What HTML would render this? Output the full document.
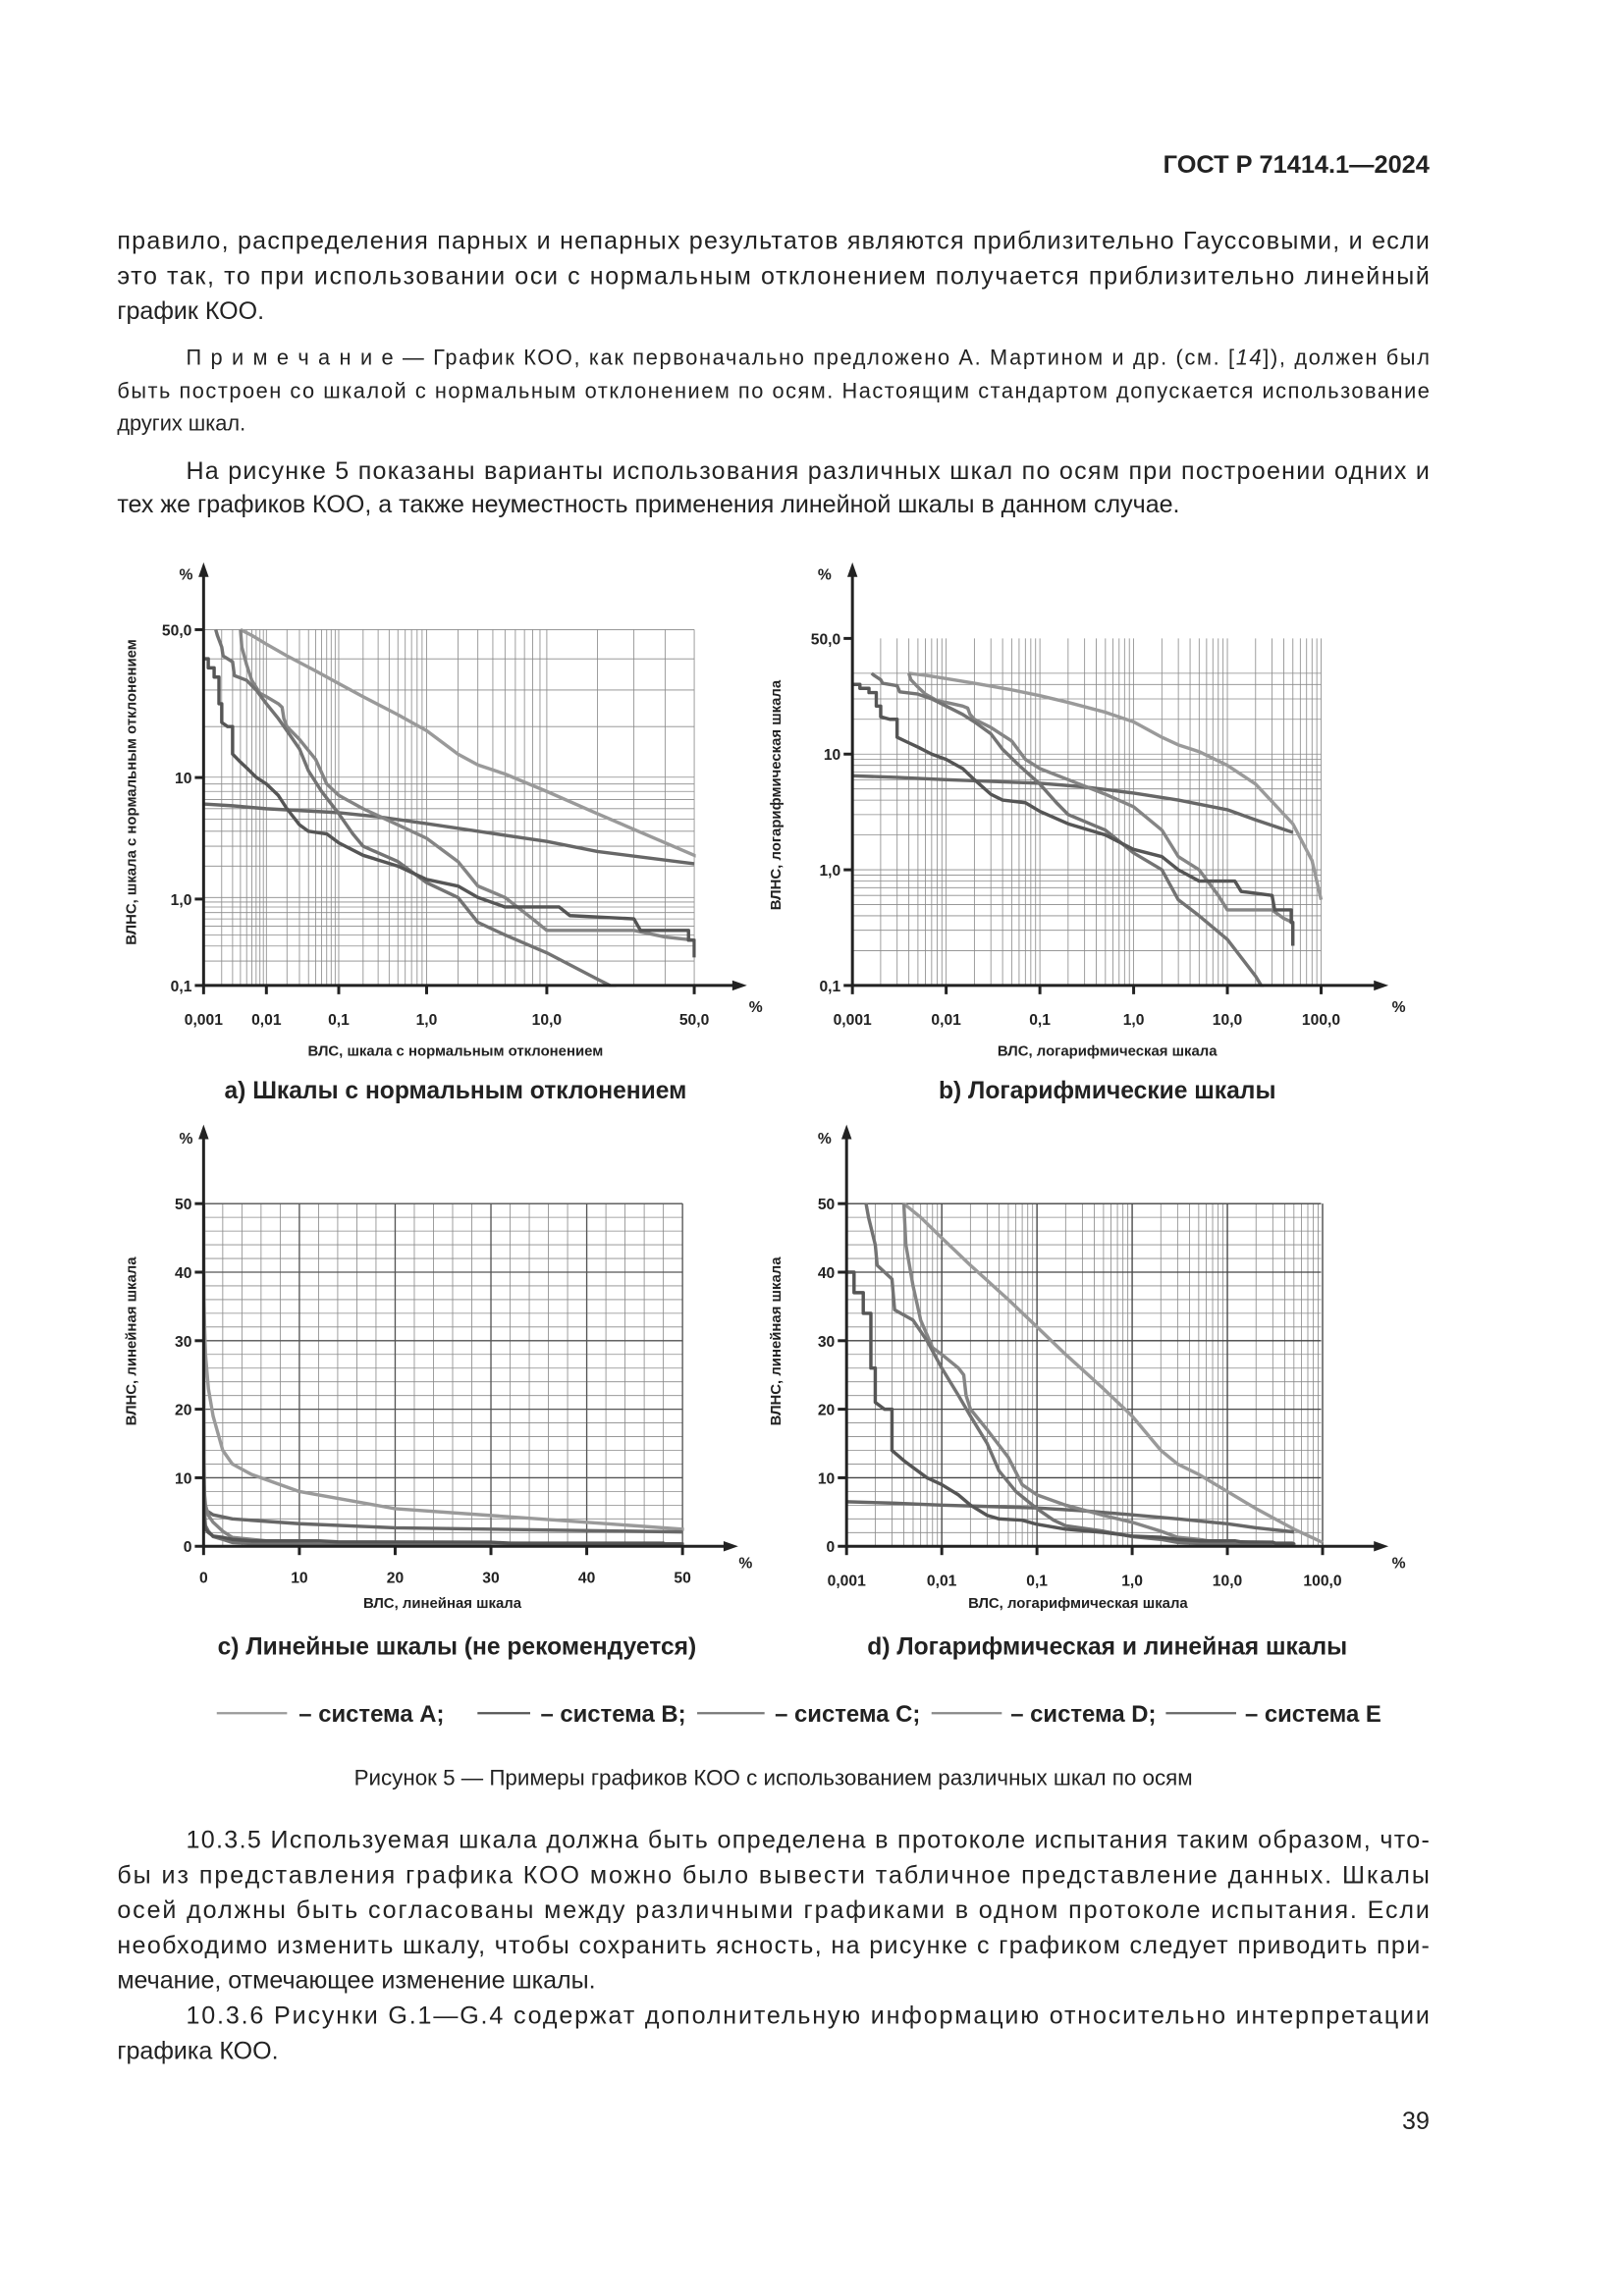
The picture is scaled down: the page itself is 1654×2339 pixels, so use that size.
<!DOCTYPE html>
<html><head><meta charset="utf-8">
<style>
html,body{margin:0;padding:0;background:#fff;}
svg{display:block;}
text{font-family:"Liberation Sans",sans-serif;fill:#222;}
.p{font-size:16.8px;}
.n{font-size:14.6px;}
.t{font-size:10.5px;font-weight:bold;}
.at{font-size:10px;font-weight:bold;}
.cap{font-size:16.5px;font-weight:bold;}
</style></head><body>
<svg id="s" width="1654" height="2339" viewBox="0 0 1108.8 1568" xmlns="http://www.w3.org/2000/svg">
<text x="976" y="118" text-anchor="end" style="font-size:17px;font-weight:bold">ГОСТ Р 71414.1—2024</text>
<text class="p" x="80" y="170" textLength="896" lengthAdjust="spacing">правило, распределения парных и непарных результатов являются приблизительно Гауссовыми, и если</text>
<text class="p" x="80" y="194" textLength="896" lengthAdjust="spacing">это так, то при использовании оси с нормальным отклонением получается приблизительно линейный</text>
<text class="p" x="80" y="218">график КОО.</text>
<text class="n" x="127" y="249" textLength="849" lengthAdjust="spacing">П р и м е ч а н и е — График КОО, как первоначально предложено А. Мартином и др. (см. [<tspan font-style="italic">14</tspan>]), должен был</text>
<text class="n" x="80" y="272" textLength="896" lengthAdjust="spacing">быть построен со шкалой с нормальным отклонением по осям. Настоящим стандартом допускается использование</text>
<text class="n" x="80" y="294">других шкал.</text>
<text class="p" x="127" y="327" textLength="849" lengthAdjust="spacing">На рисунке 5 показаны варианты использования различных шкал по осям при построении одних и</text>
<text class="p" x="80" y="350">тех же графиков КОО, а также неуместность применения линейной шкалы в данном случае.</text>

<g id="charts"></g>

<text class="cap" x="311" y="750" text-anchor="middle">а) Шкалы с нормальным отклонением</text>
<text class="cap" x="756" y="750" text-anchor="middle">b) Логарифмические шкалы</text>
<text class="cap" x="312" y="1130" text-anchor="middle">c) Линейные шкалы (не рекомендуется)</text>
<text class="cap" x="756" y="1130" text-anchor="middle">d) Логарифмическая и линейная шкалы</text>

<g stroke-width="1.5">
<line x1="148" y1="1170" x2="196" y2="1170" stroke="#999"/>
<line x1="326" y1="1170" x2="362" y2="1170" stroke="#555"/>
<line x1="476" y1="1170" x2="522" y2="1170" stroke="#777"/>
<line x1="636" y1="1170" x2="684" y2="1170" stroke="#888"/>
<line x1="796" y1="1170" x2="844" y2="1170" stroke="#666"/>
</g>
<text x="204" y="1176" style="font-weight:bold;font-size:16px">– система А;</text>
<text x="369" y="1176" style="font-weight:bold;font-size:16px">– система В;</text>
<text x="529" y="1176" style="font-weight:bold;font-size:16px">– система С;</text>
<text x="690" y="1176" style="font-weight:bold;font-size:16px">– система D;</text>
<text x="850" y="1176" style="font-weight:bold;font-size:16px">– система Е</text>

<text x="528" y="1219" text-anchor="middle" style="font-size:15px">Рисунок 5 — Примеры графиков КОО с использованием различных шкал по осям</text>

<text class="p" x="127" y="1262" textLength="849" lengthAdjust="spacing">10.3.5 Используемая шкала должна быть определена в протоколе испытания таким образом, что-</text>
<text class="p" x="80" y="1286" textLength="896" lengthAdjust="spacing">бы из представления графика КОО можно было вывести табличное представление данных. Шкалы</text>
<text class="p" x="80" y="1310" textLength="896" lengthAdjust="spacing">осей должны быть согласованы между различными графиками в одном протоколе испытания. Если</text>
<text class="p" x="80" y="1334" textLength="896" lengthAdjust="spacing">необходимо изменить шкалу, чтобы сохранить ясность, на рисунке с графиком следует приводить при-</text>
<text class="p" x="80" y="1358">мечание, отмечающее изменение шкалы.</text>
<text class="p" x="127" y="1382" textLength="849" lengthAdjust="spacing">10.3.6 Рисунки G.1—G.4 содержат дополнительную информацию относительно интерпретации</text>
<text class="p" x="80" y="1406">графика КОО.</text>
<text class="p" x="976" y="1454" text-anchor="end">39</text>
</svg>
<script>
(function(){
var NS="http://www.w3.org/2000/svg",G=document.getElementById("charts");
function el(t,a,txt){var e=document.createElementNS(NS,t);for(var k in a)e.setAttribute(k,a[k]);if(txt!=null)e.textContent=txt;G.appendChild(e);return e;}
function probit(p){
 var a=[-39.6968302866538,220.946098424521,-275.928510446969,138.357751867269,-30.6647980661472,2.50662827745924],
 b=[-54.4760987982241,161.585836858041,-155.698979859887,66.8013118877197,-13.2806815528857],
 c=[-0.00778489400243029,-0.322396458041136,-2.40075827716184,-2.54973253934373,4.37466414146497,2.93816398269878],
 d=[0.00778469570904146,0.32246712907004,2.445134137143,3.75440866190742];
 var q,r;if(p<0.02425){q=Math.sqrt(-2*Math.log(p));return (((((c[0]*q+c[1])*q+c[2])*q+c[3])*q+c[4])*q+c[5])/((((d[0]*q+d[1])*q+d[2])*q+d[3])*q+1);}
 if(p>0.97575){return -probit(1-p);}
 q=p-0.5;r=q*q;return (((((a[0]*r+a[1])*r+a[2])*r+a[3])*r+a[4])*r+a[5])*q/(((((b[0]*r+b[1])*r+b[2])*r+b[3])*r+b[4])*r+1);}
var L10=Math.log10;
function normX(v){var z0=probit(1e-5);return 139+335*(probit(v/100)-z0)/(0-z0);}
function normY(v){var z=probit(v/100),zb=probit(0.001);return 430+243*(0-z)/(0-zb);}
function logXb(v){return 582+320*(L10(v)+3)/5;}
function logYb(v){return 673-79*(L10(v)+1);}
function linXc(v){return 139+327*v/50;}
function linYc(v){return 1056-234*v/50;}
function logXd(v){return 578+325*(L10(v)+3)/5;}
function linYd(v){return 1056-234*v/50;}
var S={
E:{c:"#9a9a9a",d:[[0.004,50],[0.006,48],[0.01,45],[0.02,41],[0.05,36],[0.1,32],[0.2,28],[0.5,23],[1,19],[2,14],[3,12],[5,10.5],[10,8],[20,5.5],[50,2.5],[80,1.2],[100,0.55]]},
D:{c:"#676767",d:[[0.001,6.5],[0.003,6.3],[0.01,6],[0.1,5.6],[0.3,5.2],[1,4.6],[3,4],[10,3.3],[20,2.7],[50,2.1]]},
A:{c:"#555",d:[[0.001,40],[0.0012,40],[0.0012,37],[0.0015,37],[0.0015,34],[0.0018,34],[0.0018,26],[0.002,26],[0.002,21],[0.0025,20],[0.003,20],[0.003,14],[0.004,12.5],[0.005,11.5],[0.007,10],[0.01,9],[0.015,7.5],[0.02,6],[0.03,4.5],[0.04,4],[0.07,3.8],[0.1,3.2],[0.2,2.5],[0.5,2],[1,1.5],[2,1.3],[3,1],[5,0.8],[12,0.8],[14,0.65],[30,0.6],[32,0.45],[48,0.45],[48,0.35],[50,0.35],[50,0.22]]},
B:{c:"#737373",d:[[0.0016,50],[0.0017,48],[0.002,44],[0.0021,41],[0.003,39],[0.0032,34.5],[0.005,33],[0.007,30],[0.01,26],[0.015,22],[0.02,19],[0.03,15],[0.04,11],[0.06,8],[0.1,5.5],[0.15,3.8],[0.2,3],[0.5,2.2],[1,1.4],[2,1],[3,0.55],[5,0.4],[10,0.25],[20,0.12],[30,0.07]]},
C:{c:"#858585",d:[[0.004,50],[0.0042,44],[0.005,38],[0.006,33],[0.008,29],[0.01,28],[0.015,26],[0.017,25],[0.018,22],[0.02,20],[0.03,17],[0.05,13],[0.07,9],[0.1,7.5],[0.2,6],[0.5,4.5],[1,3.5],[2,2.2],[3,1.3],[5,1],[8,0.6],[10,0.45],[30,0.45],[40,0.38],[50,0.35]]}
};
function grid(xs,ys,fx,fy,x0,x1,y0,y1){
 xs.forEach(function(v){var x=fx(v);el("line",{x1:x,y1:y0,x2:x,y2:y1,stroke:"#8a8a8a","stroke-width":0.55});});
 ys.forEach(function(v){var y=fy(v);el("line",{x1:x0,y1:y,x2:x1,y2:y,stroke:"#8a8a8a","stroke-width":0.55});});
}
function logVals(a,b,max){var r=[];for(var e=a;e<=b;e++)for(var m=1;m<=9;m++){var v=m*Math.pow(10,e);if(v<=max*1.0001)r.push(v);}return r;}
function axes(ax,ay,xEnd,yTop,yPctX,yPctY,xPctX,xPctY){
 el("line",{x1:ax,y1:ay,x2:xEnd,y2:ay,stroke:"#222","stroke-width":2});
 el("line",{x1:ax,y1:ay,x2:ax,y2:yTop,stroke:"#222","stroke-width":2});
 el("path",{d:"M"+(xEnd+8)+","+ay+" l-10,-3.5 v7z",fill:"#222"});
 el("path",{d:"M"+ax+","+(yTop-8)+" l-3.5,10 h7z",fill:"#222"});
 el("text",{x:yPctX,y:yPctY,"class":"t","text-anchor":"middle"},"%");
 el("text",{x:xPctX,y:xPctY,"class":"t","text-anchor":"middle"},"%");
}
function curve(f,g,s,clip){var p=s.d.map(function(q){return f(q[0]).toFixed(1)+","+g(q[1]).toFixed(1);}).join(" ");
 el("polyline",{points:p,fill:"none",stroke:s.c,"stroke-width":2.3,"stroke-linejoin":"round","clip-path":clip});}
function clipR(id,x,y,w,h){var c=el("clipPath",{id:id});var r=document.createElementNS(NS,"rect");r.setAttribute("x",x);r.setAttribute("y",y);r.setAttribute("width",w);r.setAttribute("height",h);c.appendChild(r);}
function ytick(ax,y,t){el("line",{x1:ax-6,y1:y,x2:ax,y2:y,stroke:"#222","stroke-width":2});el("text",{x:ax-8,y:y+4,"class":"t","text-anchor":"end"},t);}
function xtick(x,ay,t,ly){el("line",{x1:x,y1:ay,x2:x,y2:ay+6,stroke:"#222","stroke-width":2});el("text",{x:x,y:ly,"class":"t","text-anchor":"middle"},t);}
function ylab(x,y,t){el("text",{x:x,y:y,"class":"at","text-anchor":"middle",transform:"rotate(-90 "+x+" "+y+")"},t);}
var order=["E","D","C","B","A"];
// a
clipR("ca",139,428,336,246);
grid(logVals(-3,1,50),logVals(-1,1,50),normX,normY,139,474,430,673);
order.forEach(function(k){curve(normX,normY,S[k],"url(#ca)");});
axes(139,673,502,392,127,396,516,691);
ytick(139,430,"50,0");ytick(139,531,"10");ytick(139,614,"1,0");ytick(139,673,"0,1");
[[0.001,"0,001"],[0.01,"0,01"],[0.1,"0,1"],[1,"1,0"],[10,"10,0"],[50,"50,0"]].forEach(function(q){xtick(normX(q[0]),673,q[1],700);});
el("text",{x:311,y:721,"class":"at","text-anchor":"middle"},"ВЛС, шкала с нормальным отклонением");
ylab(93,541,"ВЛНС, шкала с нормальным отклонением");
// b
clipR("cb",582,434,321,240);
grid(logVals(-3,2,100),logVals(-1,1,50),logXb,logYb,582,902,436,673);
order.forEach(function(k){curve(logXb,logYb,S[k],"url(#cb)");});
axes(582,673,940,392,563,396,955,691);
ytick(582,436,"50,0");ytick(582,515,"10");ytick(582,594,"1,0");ytick(582,673,"0,1");
[[0.001,"0,001"],[0.01,"0,01"],[0.1,"0,1"],[1,"1,0"],[10,"10,0"],[100,"100,0"]].forEach(function(q){xtick(logXb(q[0]),673,q[1],700);});
el("text",{x:756,y:721,"class":"at","text-anchor":"middle"},"ВЛС, логарифмическая шкала");
ylab(533,543,"ВЛНС, логарифмическая шкала");
// c
clipR("cc",139,820,328,237);
var cx=[],cy=[];for(var i=0;i<=50;i+=2){cx.push(i);cy.push(i);}
grid(cx,cy,linXc,linYc,139,466,822,1056);
[0,10,20,30,40,50].forEach(function(v){el("line",{x1:linXc(v),y1:822,x2:linXc(v),y2:1056,stroke:"#555","stroke-width":0.9});el("line",{x1:139,y1:linYc(v),x2:466,y2:linYc(v),stroke:"#555","stroke-width":0.9});});
order.forEach(function(k){curve(linXc,linYc,S[k],"url(#cc)");});
axes(139,1056,496,776,127,781,509,1071);
[0,10,20,30,40,50].forEach(function(v){ytick(139,linYc(v),""+v);xtick(linXc(v),1056,""+v,1081);});
el("text",{x:302,y:1098,"class":"at","text-anchor":"middle"},"ВЛС, линейная шкала");
ylab(93,916,"ВЛНС, линейная шкала");
// d
clipR("cd",578,820,326,237);
grid(logVals(-3,2,100),cy,logXd,linYd,578,902,822,1056);
[1e-3,1e-2,0.1,1,10,100].forEach(function(v){el("line",{x1:logXd(v),y1:822,x2:logXd(v),y2:1056,stroke:"#444","stroke-width":0.9});});
[0,10,20,30,40,50].forEach(function(v){el("line",{x1:578,y1:linYd(v),x2:902,y2:linYd(v),stroke:"#444","stroke-width":0.9});});
order.forEach(function(k){curve(logXd,linYd,S[k],"url(#cd)");});
axes(578,1056,940,776,563,781,955,1071);
[0,10,20,30,40,50].forEach(function(v){ytick(578,linYd(v),""+v);});
[[0.001,"0,001"],[0.01,"0,01"],[0.1,"0,1"],[1,"1,0"],[10,"10,0"],[100,"100,0"]].forEach(function(q){xtick(logXd(q[0]),1056,q[1],1083);});
el("text",{x:736,y:1098,"class":"at","text-anchor":"middle"},"ВЛС, логарифмическая шкала");
ylab(533,916,"ВЛНС, линейная шкала");
})();
</script>
</body></html>
